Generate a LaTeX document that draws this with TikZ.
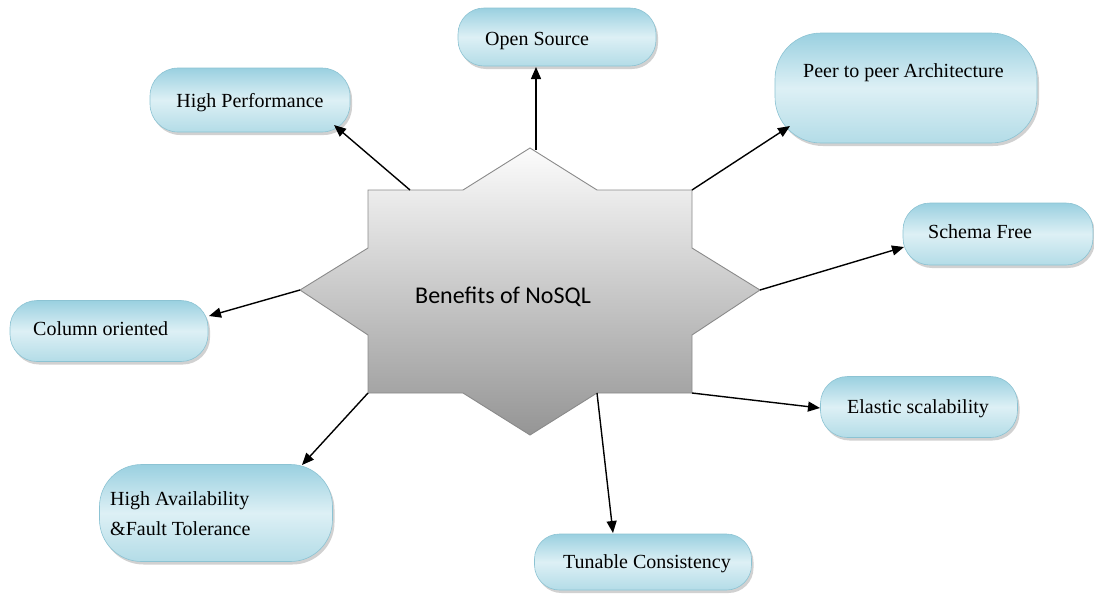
\documentclass[tikz,border=0pt]{standalone}
\usepackage{fontspec}
\setmainfont{Liberation Serif}
\newfontfamily\calib{Carlito}
\usetikzlibrary{arrows.meta,shadows}
\definecolor{bubTop}{HTML}{9AD0E0}
\definecolor{bubMid}{HTML}{DDF0F5}
\definecolor{bubBot}{HTML}{B3DCE7}
\definecolor{bubLine}{HTML}{8CC3D3}
\definecolor{starTop}{HTML}{FCFCFC}
\definecolor{starBot}{HTML}{959595}
\definecolor{starLine}{HTML}{8A8A8A}
\tikzset{
  bubble/.style={draw=bubLine, line width=0.6pt, top color=bubTop, bottom color=bubBot, middle color=bubMid,
     drop shadow={shadow xshift=2pt, shadow yshift=-3pt, fill=black!45, opacity=.4}, inner sep=0pt},
  btext/.style={font=\fontsize{20}{30}\selectfont, inner sep=0pt, align=left},
  arr/.style={line width=1.4pt, -{Triangle[length=12pt,width=10pt]}},
}
\begin{document}
\begin{tikzpicture}[x=1pt,y=-1pt]
\useasboundingbox (0,0) rectangle (1094,595);
% star
\coordinate (sT) at (530,148);
\coordinate (s1) at (597,190);
\coordinate (sTR) at (692,190);
\coordinate (s2) at (692,248);
\coordinate (sR) at (760,290);
\coordinate (s3) at (692,335);
\coordinate (sBR) at (692,393);
\coordinate (s4) at (597,393);
\coordinate (sB) at (530,435);
\coordinate (s5) at (463,393);
\coordinate (sBL) at (368,393);
\coordinate (s6) at (368,335);
\coordinate (sL) at (300,290);
\coordinate (s7) at (368,248);
\coordinate (sTL) at (368,190);
\coordinate (s8) at (463,190);
\shade[top color=starTop, bottom color=starBot] (sT) -- (s1) -- (sTR) -- (s2) -- (sR) -- (s3) -- (sBR) -- (s4) -- (sB) -- (s5) -- (sBL) -- (s6) -- (sL) -- (s7) -- (sTL) -- (s8) -- cycle;
\draw[starLine, line width=0.9pt, line join=miter] (sT) -- (s1) -- (sTR) -- (s2) -- (sR) -- (s3) -- (sBR) -- (s4) -- (sB) -- (s5) -- (sBL) -- (s6) -- (sL) -- (s7) -- (sTL) -- (s8) -- cycle;
\node[font=\calib\fontsize{24}{28}\selectfont, inner sep=0pt, anchor=base west] (title) at (415,303) {Benefits of NoSQL};

% bubbles
\node[bubble, minimum width=200pt, minimum height=64pt, rounded corners=28pt] (hp) at (250,100) {};
\node[bubble, minimum width=198pt, minimum height=58pt, rounded corners=26pt] (os) at (557,37) {};
\node[bubble, minimum width=262pt, minimum height=110pt, rounded corners=46pt] (pp) at (906,88) {};
\node[bubble, minimum width=190pt, minimum height=62pt, rounded corners=27pt] (sf) at (998,234) {};
\node[bubble, minimum width=198pt, minimum height=61pt, rounded corners=27pt] (co) at (109,331) {};
\node[bubble, minimum width=197pt, minimum height=61pt, rounded corners=27pt] (el) at (919,407) {};
\node[bubble, minimum width=233pt, minimum height=97pt, rounded corners=42pt] (ha) at (216,513) {};
\node[bubble, minimum width=217pt, minimum height=56pt, rounded corners=25pt] (tc) at (643,562) {};

\node[btext, anchor=base] (hpt) at (250,107) {High Performance};
\node[btext, anchor=base west] (ost) at (485,45) {Open Source};
\node[btext, anchor=base west] (ppt) at (803,77) {Peer to peer Architecture};
\node[btext, anchor=base west] (sft) at (928,238) {Schema Free};
\node[btext, anchor=base west] (cot) at (33,335) {Column oriented};
\node[btext, anchor=base west] (elt) at (847,413) {Elastic scalability};
\node[btext, anchor=base west] (hat) at (110,535) {High Availability\\\&Fault Tolerance};
\node[btext, anchor=base west] (tct) at (563,568) {Tunable Consistency};

% arrow start / end points
\coordinate (aHP) at (410,190);
\coordinate (aOS) at (536,150);
\coordinate (eHP) at (334,125);
\coordinate (eOS) at (536,67);
\coordinate (ePP) at (790,126);
\coordinate (eSF) at (904,247);
\coordinate (eCO) at (209,316);
\coordinate (eEL) at (820,408);
\coordinate (eTC) at (613,533);
\coordinate (eHA) at (302,465);

\draw[arr] (aHP) -- (eHP);
\draw[arr] (aOS) -- (eOS);
\draw[arr] (sTR) -- (ePP);
\draw[arr] (sR) -- (eSF);
\draw[arr] (sL) -- (eCO);
\draw[arr] (sBR) -- (eEL);
\draw[arr] (s4) -- (eTC);
\draw[arr] (sBL) -- (eHA);
\end{tikzpicture}
\end{document}
